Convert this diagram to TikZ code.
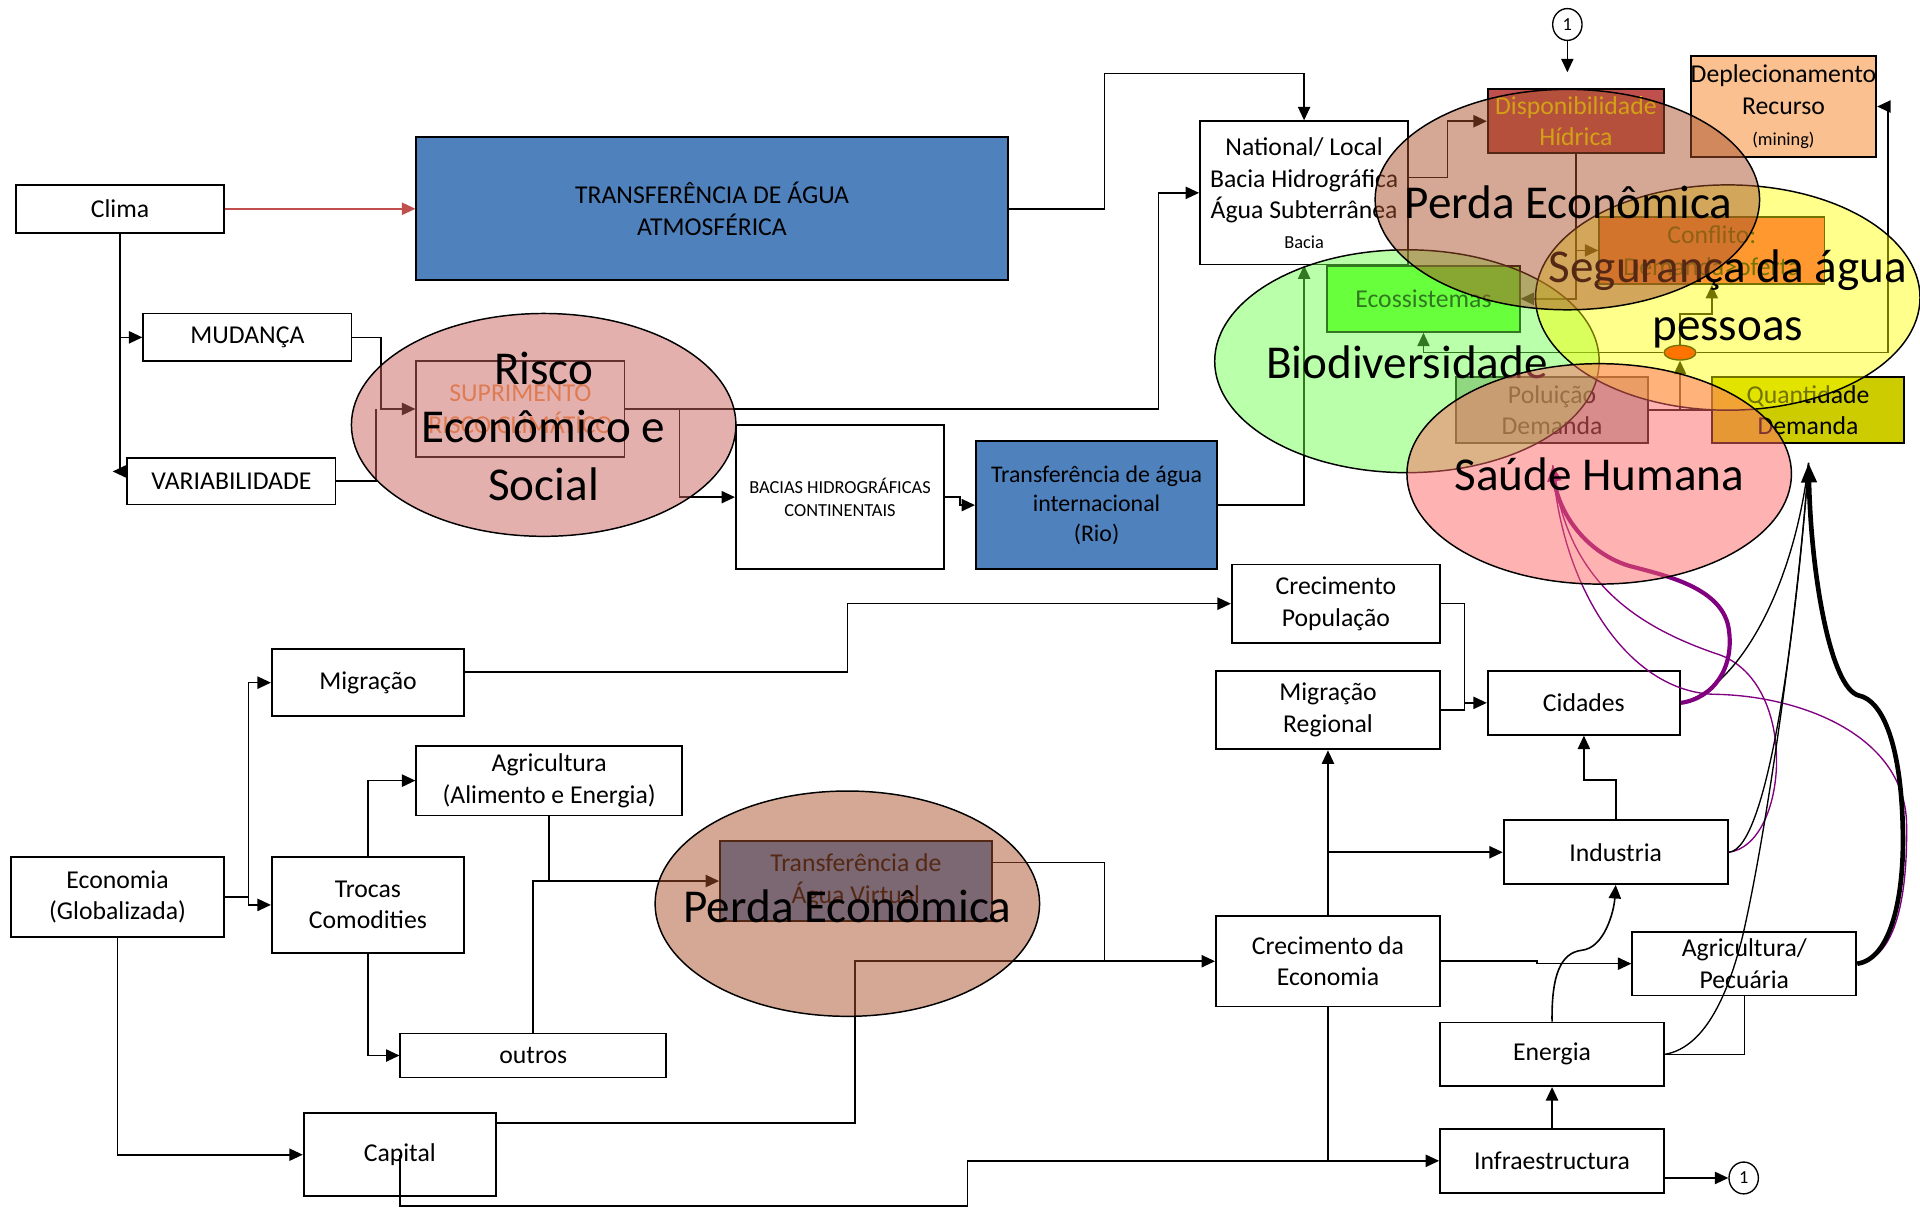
\documentclass[tikz,border=0pt]{standalone}
\usepackage{fontspec}
\setmainfont{Carlito}
\usetikzlibrary{arrows.meta,shapes.geometric}

\definecolor{tblue}{HTML}{4F81BD}
\definecolor{arred}{HTML}{C0504D}
\definecolor{supor}{HTML}{F79646}
\definecolor{dispred}{HTML}{C0504D}
\definecolor{deplor}{HTML}{FAC090}
\definecolor{conflc}{HTML}{FF4557}
\definecolor{ecogr}{HTML}{66FF33}
\definecolor{polgr}{HTML}{B3B3B3}
\definecolor{quaol}{HTML}{CCCC00}
\definecolor{dotred}{HTML}{FF0000}
\definecolor{purp}{HTML}{800080}
\definecolor{riscoc}{HTML}{C9625E}
\definecolor{perdac}{HTML}{A9512A}
\definecolor{bioc}{HTML}{6CFF48}
\definecolor{segc}{HTML}{FFFF00}
\definecolor{sauc}{HTML}{FF6666}

\begin{document}
\begin{tikzpicture}[x=1pt,y=-1pt,
  wh/.style 2 args={minimum width=#1pt,minimum height=#2pt},
  box/.style={draw=black,line width=1.5pt,fill=white,inner sep=0pt,align=center,
    font=\fontsize{21}{26}\selectfont},
  conn/.style={line width=1.3pt,draw=black},
  arr/.style={conn,-{Triangle[length=11pt,width=10pt]}},
  bubble/.style={ellipse,draw=black,line width=1.2pt,inner sep=0pt,fill opacity=#1},
  bubble/.default=0.5,
  biglbl/.style={font=\fontsize{38.5}{47.5}\selectfont,align=center,inner sep=0pt,text=black},
  numc/.style={ellipse,draw=black,line width=1.1pt,minimum width=24pt,minimum height=26pt,
    inner sep=0pt,fill=white,font=\fontsize{15}{18}\selectfont},
  thinc/.style={line width=1.1pt},
]
\useasboundingbox (0,0) rectangle (1568,987);

% ---------- climate branch ----------
\node[box,wh={170}{39}] (clima) at (98,170.5) {Clima};
\node[box,wh={483}{117},fill=tblue] (atm) at (581.5,170.5) {TRANSFERÊNCIA DE ÁGUA\\ATMOSFÉRICA};
\node[box,wh={170}{39}] (mud) at (202,275.5) {MUDANÇA};
\node[box,wh={170}{38}] (var) at (189,393) {VARIABILIDADE};
\node[box,wh={170}{78},text=supor] (sup) at (425,334) {SUPRIMENTO\\RISCO CLIMÁTICO};
\node[box,wh={170}{118},font=\fontsize{15}{19}\selectfont] (bac) at (686,406) {BACIAS HIDROGRÁFICAS\\CONTINENTAIS};
\node[box,wh={197}{105},fill=tblue,font=\fontsize{19.5}{24}\selectfont] (rio) at (895.5,412.5) {Transferência de água\\internacional\\(Rio)};
\node[box,wh={170}{117}] (nat) at (1065,157.5) {National/ Local\\Bacia Hidrográfica\\Água Subterrânea\\[-2pt]{\fontsize{15}{18}\selectfont Bacia}};

% ---------- water security cluster ----------
\node[box,wh={144}{52},fill=dispred,text=yellow,font=\fontsize{21}{25}\selectfont] (disp) at (1287,99) {Disponibilidade\\Hídrica};
\node[box,wh={145}{82},fill=deplor] (depl) at (1456.5,87) {Deplecionamento\\Recurso\\[-1pt]{\fontsize{15}{18}\selectfont (mining)}};
\node[box,wh={184}{55},fill=conflc] (conf) at (1398,204.5) {Conflito:\\Demanda>oferta};
\node[box,wh={157}{54},fill=ecogr] (eco) at (1162.5,244) {Ecossistemas};
\node[box,wh={157}{54},fill=polgr] (pol) at (1267.5,335) {Poluição\\Demanda};
\node[box,wh={157}{54},fill=quaol] (qua) at (1476.5,335) {Quantidade\\Demanda};
\node[ellipse,draw=black,line width=1.1pt,fill=dotred,minimum width=26pt,minimum height=12pt,inner sep=0pt] (os) at (1372,288) {};
\node[numc] (one1) at (1280,20) {1};
\coordinate (toptip) at (1280,59);

% ---------- socio-economic chain ----------
\node[box,wh={170}{64}] (cpop) at (1091,493) {Crecimento\\População};
\node[box,wh={183}{64}] (mreg) at (1084.5,580) {Migração\\Regional};
\node[box,wh={157}{52}] (cid) at (1293.5,574) {Cidades};
\node[box,wh={183}{52}] (ind) at (1319.5,696) {Industria};
\node[box,wh={183}{74}] (ceco) at (1084.5,785) {Crecimento da\\Economia};
\node[box,wh={183}{52}] (agp) at (1424.5,787) {Agricultura/\\Pecuária};
\node[box,wh={183}{52}] (ene) at (1267.5,861) {Energia};
\node[box,wh={183}{52}] (inf) at (1267.5,948) {Infraestructura};
\node[numc] (one2) at (1424,962) {1};

\node[box,wh={157}{55}] (mig) at (300.5,557.5) {Migração};
\node[box,wh={217}{57}] (agae) at (448.5,637.5) {Agricultura\\(Alimento e Energia)};
\node[box,wh={174}{65}] (econ) at (96,732.5) {Economia\\(Globalizada)};
\node[box,wh={157}{78}] (troc) at (300.5,739) {Trocas\\Comodities};
\node[box,wh={217}{36}] (outr) at (435.5,862) {outros};
\node[box,wh={157}{68}] (cap) at (326.5,943) {Capital};
\node[box,wh={222}{65},fill=tblue] (virt) at (699,719.5) {Transferência de\\Água Virtual};

% ---------- connectors: climate ----------
\draw[conn,draw=arred,-{Triangle[length=11pt,width=10pt]}] (clima.east) -- (atm.west);
\coordinate (vtip) at (92,385);
\draw[conn] (clima.south) -- (clima.south |- vtip);
\draw[arr] (var.west |- vtip) -- (vtip);
\draw[arr] (clima.south |- mud.west) -- (mud.west);
\draw[arr] (mud.east) -- (311,275.5) -- (311,334) -- (sup.west);
\draw[conn] (var.east) -- (307,393) -- (307,334);
\draw[arr] (sup.east) -- (946,334) |- (nat.west);
\draw[arr] (555,334) |- (bac.west);
\draw[arr] (bac.east) -- (784,406) |- (rio.west);
\draw[arr] (rio.east) -| (nat.south);
\draw[arr] (atm.east) -| (902,60) -| (nat.north);
\draw[arr] ([yshift=12.5pt]nat.east) -- (1182,145) |- (disp.west);
\draw[arr] (disp.south) |- (eco.east);
\draw[arr] (disp.south |- conf.west) -- (conf.west);
\draw[arr] (one1.south) -- (toptip);
\draw[conn] (pol.east) -- (qua.west);
\draw[arr] (os.south |- pol.east) -- (os.south);
\draw[arr] (os.north) -- ++(0,-25) -| (conf.south);
\draw[arr] (os.east) -- (1542,288) |- (depl.east);
\draw[arr] (os.west) -| (eco.south);

% ---------- connectors: economy ----------
\draw[arr] (econ.east) -- (203,732.5) |- (mig.west);
\draw[arr] (203,732.5) |- (troc.west);
\draw[arr] (troc.north) |- (agae.west);
\draw[arr] (troc.south) |- (outr.west);
\draw[arr] (agae.south) |- (virt.west);
\draw[conn] (outr.north) |- (agae.south |- virt.west);
\draw[arr] (econ.south) |- (cap.west);
\draw[arr] ([yshift=26pt]cap.east) -| (698,785) -- (ceco.west);
\draw[conn] ([yshift=15pt]virt.east) -| (902,785);
\draw[arr] (cap.center) -- (326.5,985) -| (790,948) -- (inf.west);
\draw[conn] (ceco.south) -- (ceco.south |- inf.west);
\draw[arr] (ceco.north) -- (mreg.south);
\draw[arr] (ceco.north |- ind.west) -- (ind.west);
\draw[arr] (ceco.east) -- (1255,785) -- (1255,787) -- (agp.west);
\draw[arr] ([yshift=8.5pt]mig.east) -- (692,549) |- (cpop.west);
\draw[arr] (cpop.east) -- (1196,493) |- (cid.west);
\draw[conn] (mreg.east) -| (1196,574);
\draw[arr] (ind.north) -- (1319.5,637) -| (cid.south);
\draw[arr] (ene.north) .. controls (1267,795) and (1275,778) .. (1292,776) .. controls (1310,774) and (1318,745) .. (ind.south);
\draw[arr] (inf.north) -- (ene.south);
\draw[conn] (agp.south) |- (ene.east);
\draw[arr] ([yshift=-14pt]inf.east) -- (one2.west);

% ---------- impact curves ----------
\coordinate (qtip) at (1477,378);
\coordinate (stip) at (1268,380);
\draw[thinc,purp] (agp.east) .. controls (1549,783) and (1558,730) .. (1557,672) .. controls (1555,600) and (1470,568) .. (1400,567) .. controls (1330,565) and (1275,480) .. (stip);
\draw[thinc,purp] (ind.east) .. controls (1460,690) and (1470,560) .. (1405,535) .. controls (1330,510) and (1278,470) .. (stip);
\draw[thinc] (ind.east) .. controls (1445,694) and (1468,500) .. (qtip);
\draw[thinc] (ene.east) .. controls (1395,855) and (1413,805) .. (1423,765) .. controls (1445,670) and (1470,480) .. (qtip);
\draw[thinc] (cid.east) .. controls (1420,562) and (1465,480) .. (qtip);
\draw[line width=3.4pt,purp,-{Triangle[length=13pt,width=11pt]}] (cid.east) .. controls (1400,570) and (1416,545) .. (1412,515) .. controls (1408,480) and (1360,470) .. (1330,462) .. controls (1292,450) and (1272,415) .. (stip);
\draw[line width=3.8pt,-{Triangle[length=16pt,width=12pt]}] (agp.east) .. controls (1545,783) and (1555,730) .. (1554,680) .. controls (1553,610) and (1538,572) .. (1518,568) .. controls (1495,562) and (1479,470) .. (qtip);

% ---------- translucent impact ellipses ----------
\node[bubble=0.5,fill=riscoc,wh={314}{182}] (risco) at (444,347) {};
\node[biglbl] (riscol) at (444,348) {Risco\\Econômico e\\Social};
\node[bubble=0.5,fill=perdac,wh={314}{184}] (perdab) at (692,738) {};
\node[biglbl] (perdabl) at (692,740) {Perda Econômica};
\node[bubble=0.47,fill=bioc,wh={314}{182}] (bio) at (1149,295) {};
\node[biglbl] (biol) at (1149,296) {Biodiversidade};
\node[bubble=0.45,fill=segc,wh={314}{184}] (seg) at (1411,243) {};
\node[biglbl] (segl) at (1411,244) {Segurança da água\\pessoas};
\node[bubble=0.5,fill=sauc,wh={314}{180}] (sau) at (1306,387) {};
\node[biglbl] (saul) at (1306,387) {Saúde Humana};
\node[bubble=0.5,fill=perdac,wh={314}{180}] (perdat) at (1280,163) {};
\node[biglbl] (perdatl) at (1281,165) {Perda Econômica};
\end{tikzpicture}
\end{document}
